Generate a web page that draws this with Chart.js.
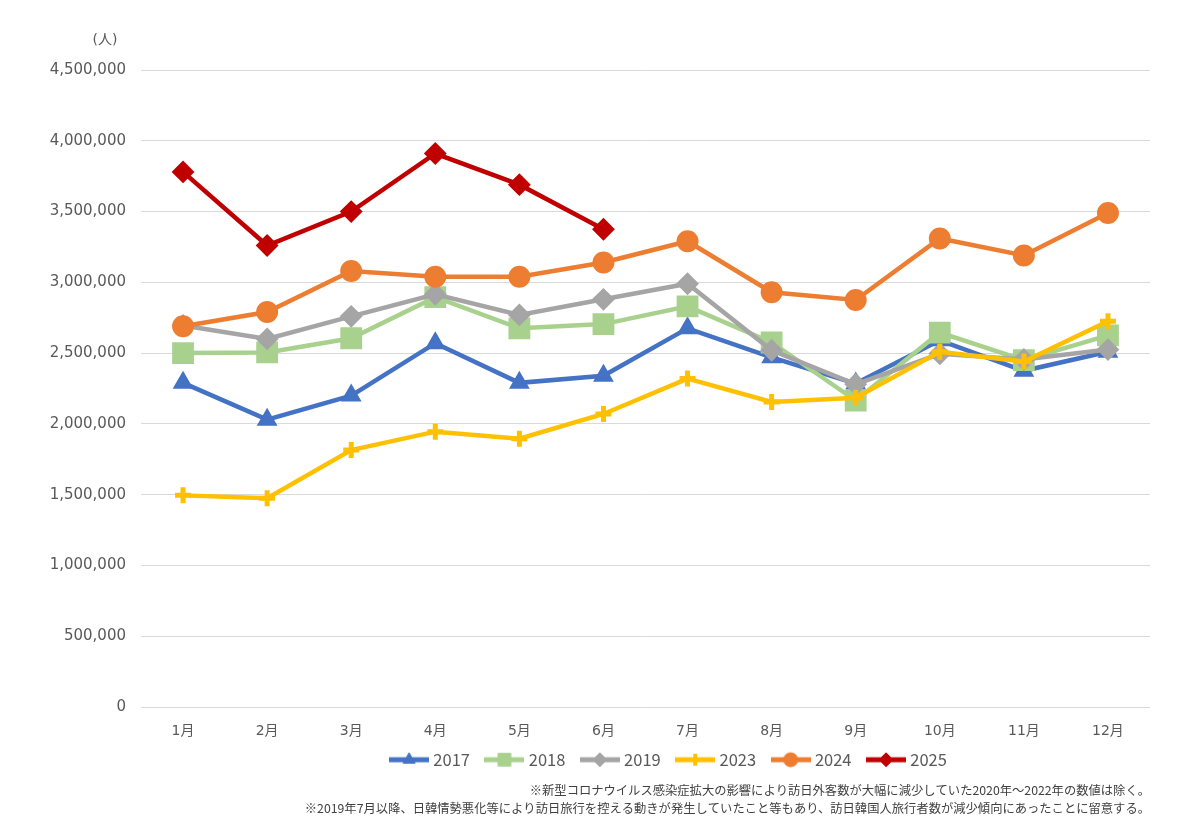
<!DOCTYPE html>
<html><head><meta charset="utf-8">
<script src="https://cdn.jsdelivr.net/npm/chart.js@4/dist/chart.umd.min.js"></script>
<style>html,body{margin:0;padding:0;background:#fff;}</style>
</head><body>
<canvas id="c" width="1200" height="834"></canvas>
<script>
const months = ['1月','2月','3月','4月','5月','6月','7月','8月','9月','10月','11月','12月'];
const yTickValues = [0,500000,1000000,1500000,2000000,2500000,3000000,3500000,4000000,4500000];
const yUnit = '(人)';
const v2017 = [2290000,2030000,2200000,2570000,2290000,2340000,2675000,2470000,2285000,2590000,2375000,2510000];
const v2018 = [2500000,2505000,2605000,2895000,2675000,2705000,2830000,2575000,2165000,2645000,2450000,2625000];
const v2019 = [2695000,2600000,2760000,2915000,2770000,2880000,2990000,2520000,2280000,2495000,2455000,2525000];
const v2023 = [1495000,1475000,1815000,1945000,1895000,2070000,2320000,2155000,2185000,2510000,2440000,2725000];
const v2024 = [2690000,2790000,3080000,3040000,3040000,3140000,3290000,2930000,2875000,3310000,3190000,3490000];
const v2025 = [3780000,3260000,3500000,3910000,3690000,3375000];
const notes = [
  '※新型コロナウイルス感染症拡大の影響により訪日外客数が大幅に減少していた2020年～2022年の数値は除く。',
  '※2019年7月以降、日韓情勢悪化等により訪日旅行を控える動きが発生していたこと等もあり、訪日韓国人旅行者数が減少傾向にあったことに留意する。'
];

const seriesDefs = [
  {label:'2017', data:v2017, color:'#4472C4', style:'triangle', r:10, bw:2, lr:7},
  {label:'2018', data:v2018, color:'#A9D18E', style:'rect', r:14, bw:2, lr:9},
  {label:'2019', data:v2019, color:'#A5A5A5', style:'rectRot', r:10, bw:2, lr:7},
  {label:'2023', data:v2023, color:'#FFC000', style:'cross', r:8, bw:5, lr:6},
  {label:'2024', data:v2024, color:'#ED7D31', style:'circle', r:10, bw:2, lr:7},
  {label:'2025', data:v2025, color:'#C00000', style:'rectRot', r:10, bw:2, lr:7}
];

function legendIcon(d){
  const cv = document.createElement('canvas');
  cv.width = 40; cv.height = 20;
  const ctx = cv.getContext('2d');
  ctx.strokeStyle = d.color; ctx.lineWidth = 5;
  ctx.beginPath(); ctx.moveTo(0,10); ctx.lineTo(40,10); ctx.stroke();
  ctx.fillStyle = d.color; ctx.strokeStyle = d.color;
  ctx.lineWidth = d.style === 'cross' ? 4 : 1;
  Chart.helpers.drawPoint(ctx, {pointStyle:d.style, radius:d.lr, rotation:0, borderWidth:ctx.lineWidth}, 20, 10);
  return cv;
}

const n = seriesDefs.length;
const datasets = seriesDefs.map((d,i)=>({
  label:d.label, data:d.data,
  borderColor:d.color, backgroundColor:d.color,
  borderWidth:4.5,
  pointStyle:d.style, pointRadius:d.r, pointBorderWidth:d.bw,
  pointBackgroundColor:d.color, pointBorderColor:d.color,
  order:n-i, tension:0
}));

const extras = {
  id:'extras',
  afterLayout(chart){
    const L = chart.legend; const dx = 90, dy = -4;
    L.left += dx; L.right += dx;
    L.top += dy; L.bottom += dy;
  },
  afterDraw(chart){
    const ctx = chart.ctx, a = chart.chartArea;
    ctx.save();
    ctx.font = "14px 'DejaVu Sans','Noto Sans CJK JP'";
    ctx.fillStyle = '#595959';
    ctx.textAlign = 'center'; ctx.textBaseline = 'middle';
    ctx.fillText(yUnit, a.left - 36, a.top - 30);
    ctx.restore();
  }
};

new Chart(document.getElementById('c'), {
  type:'line',
  data:{labels:months, datasets},
  plugins:[extras],
  options:{
    responsive:false, animation:false,
    layout:{padding:{left:10,right:50,top:70,bottom:8}},
    plugins:{
      tooltip:{enabled:false},
      legend:{
        position:'bottom',
        labels:{
          usePointStyle:true, pointStyleWidth:32, padding:18.5,
          color:'#595959',
          font:{family:"'Noto Sans CJK JP','DejaVu Sans'", size:16.5},
          generateLabels(chart){
            return seriesDefs.map((d,i)=>({
              text:d.label, fillStyle:d.color, strokeStyle:d.color,
              pointStyle:legendIcon(d), datasetIndex:i, hidden:false, lineWidth:0,
              fontColor:'#595959'
            }));
          }
        }
      },
      title:{
        display:true, position:'bottom', align:'end',
        text:notes, color:'#404040',
        font:{family:"'Noto Sans CJK JP'", size:12.3, lineHeight:18/12.3, weight:'normal'},
        padding:{top:-1,bottom:9}
      }
    },
    scales:{
      x:{
        offset:true,
        grid:{display:false, drawTicks:false},
        border:{display:false},
        ticks:{color:'#595959', padding:16, font:{family:"'DejaVu Sans','Noto Sans CJK JP'", size:14}},
        afterFit(s){ s.height = 30; }
      },
      y:{
        min:0, max:4500000,
        grid:{color:'#d9d9d9', lineWidth:1, drawTicks:false},
        border:{display:false},
        afterBuildTicks(s){ s.ticks = yTickValues.map(v=>({value:v})); },
        ticks:{
          color:'#595959', padding:15,
          font:{family:"'DejaVu Sans'", size:15},
          callback:(v)=>Number(v).toLocaleString('en-US')
        },
        afterFit(s){ s.width = 131; }
      }
    }
  }
});
</script>
</body></html>
